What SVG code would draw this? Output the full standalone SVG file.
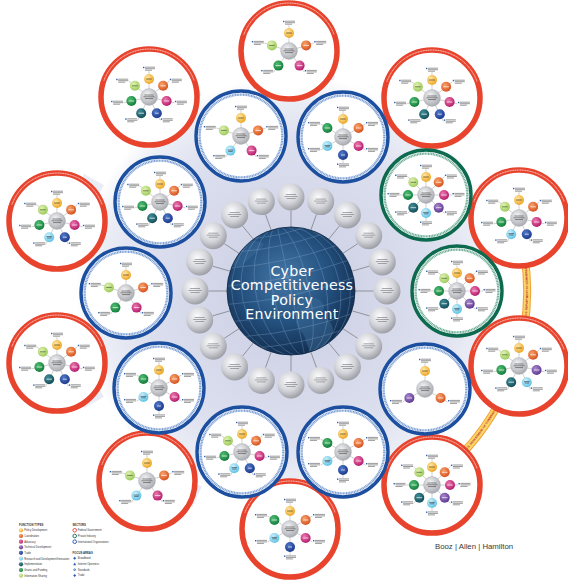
<svg xmlns="http://www.w3.org/2000/svg" width="568" height="581" viewBox="0 0 568 581">
<style>
.ld{stroke:#8a8a8a;stroke-width:.4;fill:none}
.conn{stroke:#7d8088;stroke-width:.8}
.lg{font-family:"Liberation Sans",Arial,sans-serif;font-size:2.6px;fill:#333}
.lgh{font-weight:bold;font-size:2.8px}
.beam{fill:url(#gBeam)}
</style>
<defs>
<radialGradient id="gBase" gradientUnits="userSpaceOnUse" cx="291" cy="291" r="215"><stop offset="0" stop-color="#c9cde3"/><stop offset=".7" stop-color="#dcdfee"/><stop offset=".9" stop-color="#eceef6"/><stop offset="1" stop-color="#fff"/></radialGradient>
<radialGradient id="gBeam" gradientUnits="userSpaceOnUse" cx="291" cy="291" r="240"><stop offset="0" stop-color="#d3d6ea"/><stop offset="1" stop-color="#eceef6"/></radialGradient>
<radialGradient id="gGlobe" cx=".45" cy=".4" r=".65"><stop offset="0" stop-color="#4678a6"/><stop offset=".55" stop-color="#24507e"/><stop offset="1" stop-color="#102a4a"/></radialGradient>
<radialGradient id="gS" cx=".4" cy=".35" r=".68"><stop offset="0" stop-color="#fcfcfd"/><stop offset=".55" stop-color="#d3d4d9"/><stop offset="1" stop-color="#999ba2"/></radialGradient>
<radialGradient id="gH" cx=".4" cy=".35" r=".7"><stop offset="0" stop-color="#f4f4f6"/><stop offset="1" stop-color="#a4a6ad"/></radialGradient>
<radialGradient id="gY" cx=".38" cy=".35" r=".7"><stop offset="0" stop-color="#ffe9a8"/><stop offset="1" stop-color="#eca21c"/></radialGradient>
<radialGradient id="gO" cx=".38" cy=".35" r=".7"><stop offset="0" stop-color="#f8a36a"/><stop offset="1" stop-color="#d54d1c"/></radialGradient>
<radialGradient id="gM" cx=".38" cy=".35" r=".7"><stop offset="0" stop-color="#ec78ad"/><stop offset="1" stop-color="#b3166a"/></radialGradient>
<radialGradient id="gP" cx=".38" cy=".35" r=".7"><stop offset="0" stop-color="#a888cc"/><stop offset="1" stop-color="#5b348e"/></radialGradient>
<radialGradient id="gB" cx=".38" cy=".35" r=".7"><stop offset="0" stop-color="#5378c9"/><stop offset="1" stop-color="#18378a"/></radialGradient>
<radialGradient id="gC" cx=".38" cy=".35" r=".7"><stop offset="0" stop-color="#d2f2fb"/><stop offset="1" stop-color="#56c0e4"/></radialGradient>
<radialGradient id="gT" cx=".38" cy=".35" r=".7"><stop offset="0" stop-color="#3f8e98"/><stop offset="1" stop-color="#134a57"/></radialGradient>
<radialGradient id="gG" cx=".38" cy=".35" r=".7"><stop offset="0" stop-color="#4fbd70"/><stop offset="1" stop-color="#107a3a"/></radialGradient>
<radialGradient id="gL" cx=".38" cy=".35" r=".7"><stop offset="0" stop-color="#e2f1b4"/><stop offset="1" stop-color="#98c955"/></radialGradient>
<clipPath id="gc"><circle cx="291" cy="291" r="64"/></clipPath>

<g id="sph"><circle r="13.5" fill="url(#gS)"/><path d="M-5,-2.5h10M-6.5,-.5h13M-4.5,1.5h9" stroke="#6b6d72" stroke-width=".8" opacity=".7"/></g>
<g id="tb"><rect width="1.4" height="1.4" fill="#2b5fb3"/><path d="M2,.4h10M2,1.9h10M2,3.4h7" stroke="#555" stroke-width=".6"/></g>
<g id="hub"><circle r="8.5" fill="url(#gH)" stroke="#9ea1a8" stroke-width=".3"/><path d="M-4.5,-2h9M-5.5,-.2h11M-4,1.6h8" stroke="#3a3a3a" stroke-width=".6"/></g>
<g id="sY"><circle r="5" fill="url(#gY)"/><path d="M-2.8,0h5.6" stroke="#5a3a00" stroke-width=".7"/></g>
<g id="sO"><circle r="5" fill="url(#gO)"/><path d="M-2.8,0h5.6" stroke="#fff" stroke-width=".7"/></g>
<g id="sM"><circle r="5" fill="url(#gM)"/><path d="M-2.8,0h5.6" stroke="#fff" stroke-width=".7"/></g>
<g id="sP"><circle r="5" fill="url(#gP)"/><path d="M-2.8,0h5.6" stroke="#fff" stroke-width=".7"/></g>
<g id="sB"><circle r="5" fill="url(#gB)"/><path d="M-2,0h4" stroke="#fff" stroke-width=".7"/></g>
<g id="sC"><circle r="5" fill="url(#gC)"/><path d="M-2.8,-.6h5.6M-2.2,.8h4.4" stroke="#234" stroke-width=".6"/></g>
<g id="sT"><circle r="5" fill="url(#gT)"/><path d="M-2.8,0h5.6" stroke="#fff" stroke-width=".7"/></g>
<g id="sG"><circle r="5" fill="url(#gG)"/><path d="M-2.8,0h5.6" stroke="#fff" stroke-width=".7"/></g>
<g id="sL"><circle r="5" fill="url(#gL)"/><path d="M-2.8,0h5.6" stroke="#2a4a10" stroke-width=".6"/></g>

<g id="rR"><circle r="48" fill="#fff" stroke="#e8432d" stroke-width="5.5"/><path d="M-45.1,-16.4A48,48 0 0 1 45.1,-16.4" fill="none" stroke="#fff" stroke-width=".9" stroke-dasharray="1.2 .5" opacity=".85"/></g>
<g id="rB"><circle r="45" fill="#fff" stroke="#1c4f9f" stroke-width="3.4"/><circle r="41.4" fill="none" stroke="#5d88c9" stroke-width="2.4" stroke-dasharray="1.1 .5" opacity=".8"/></g>
<g id="rG"><circle r="45" fill="#fff" stroke="#0e6a4e" stroke-width="3.4"/><circle r="41.4" fill="none" stroke="#4a9a7d" stroke-width="2.4" stroke-dasharray="1.1 .5" opacity=".8"/></g>

<g id="w3"><path class="ld" d="M0,0V-26M0,0L22.5,13M0,0L-22.5,13"/>
<use href="#tb" x="-6" y="-30.2"/><use href="#tb" x="23" y="11"/><use href="#tb" x="-35" y="11"/>
<use href="#hub"/><use href="#sY" y="-18"/><use href="#sO" x="15.6" y="9"/><use href="#sP" x="-15.6" y="9"/></g>

<g id="w5a"><path class="ld" d="M0,0V-26M0,0L24.7,-8M0,0L15.3,21M0,0L-15.3,21M0,0L-24.7,-8"/>
<use href="#tb" x="-6" y="-30.2"/><use href="#tb" x="25.2" y="-10"/><use href="#tb" x="15.8" y="19"/><use href="#tb" x="-27.8" y="19"/><use href="#tb" x="-37.2" y="-10"/>
<use href="#hub"/><use href="#sY" y="-18"/><use href="#sO" x="17.1" y="-5.6"/><use href="#sM" x="10.6" y="14.6"/><use href="#sG" x="-10.6" y="14.6"/><use href="#sL" x="-17.1" y="-5.6"/></g>

<g id="w5b"><path class="ld" d="M0,0V-26M0,0L24.7,-8M0,0L15.3,21M0,0L-15.3,21M0,0L-24.7,-8"/>
<use href="#tb" x="-6" y="-30.2"/><use href="#tb" x="25.2" y="-10"/><use href="#tb" x="15.8" y="19"/><use href="#tb" x="-27.8" y="19"/><use href="#tb" x="-37.2" y="-10"/>
<use href="#hub"/><use href="#sY" y="-18"/><use href="#sO" x="17.1" y="-5.6"/><use href="#sM" x="10.6" y="14.6"/><use href="#sC" x="-10.6" y="14.6"/><use href="#sL" x="-17.1" y="-5.6"/></g>

<g id="w6"><path class="ld" d="M0,0V-26M0,0L22.5,-13M0,0L22.5,13M0,0V26M0,0L-22.5,13M0,0L-22.5,-13"/>
<use href="#tb" x="-6" y="-30.2"/><use href="#tb" x="23" y="-15"/><use href="#tb" x="23" y="11"/><use href="#tb" x="-6" y="26.5"/><use href="#tb" x="-35" y="11"/><use href="#tb" x="-35" y="-15"/>
<use href="#hub"/><use href="#sY" y="-18"/><use href="#sO" x="15.6" y="-9"/><use href="#sM" x="15.6" y="9"/><use href="#sB" y="18"/><use href="#sC" x="-15.6" y="9"/><use href="#sG" x="-15.6" y="-9"/></g>

<g id="w7a"><path class="ld" d="M0,0V-26M0,0L20.3,-16.2M0,0L25.4,5.8M0,0L11.3,23.4M0,0L-11.3,23.4M0,0L-25.4,5.8M0,0L-20.3,-16.2"/>
<use href="#tb" x="-6" y="-30.2"/><use href="#tb" x="20.8" y="-18.2"/><use href="#tb" x="25.9" y="3.8"/><use href="#tb" x="11.8" y="21.4"/><use href="#tb" x="-23.8" y="21.4"/><use href="#tb" x="-37.9" y="3.8"/><use href="#tb" x="-32.8" y="-18.2"/>
<use href="#hub"/><use href="#sY" y="-18"/><use href="#sO" x="14.1" y="-11.2"/><use href="#sM" x="17.6" y="4"/><use href="#sB" x="7.8" y="16.2"/><use href="#sT" x="-7.8" y="16.2"/><use href="#sG" x="-17.6" y="4"/><use href="#sL" x="-14.1" y="-11.2"/></g>

<g id="w7b"><path class="ld" d="M0,0V-26M0,0L20.3,-16.2M0,0L25.4,5.8M0,0L11.3,23.4M0,0L-11.3,23.4M0,0L-25.4,5.8M0,0L-20.3,-16.2"/>
<use href="#tb" x="-6" y="-30.2"/><use href="#tb" x="20.8" y="-18.2"/><use href="#tb" x="25.9" y="3.8"/><use href="#tb" x="11.8" y="21.4"/><use href="#tb" x="-23.8" y="21.4"/><use href="#tb" x="-37.9" y="3.8"/><use href="#tb" x="-32.8" y="-18.2"/>
<use href="#hub"/><use href="#sY" y="-18"/><use href="#sO" x="14.1" y="-11.2"/><use href="#sM" x="17.6" y="4"/><use href="#sB" x="7.8" y="16.2"/><use href="#sC" x="-7.8" y="16.2"/><use href="#sG" x="-17.6" y="4"/><use href="#sL" x="-14.1" y="-11.2"/></g>

<g id="w7c"><path class="ld" d="M0,0V-26M0,0L20.3,-16.2M0,0L25.4,5.8M0,0L11.3,23.4M0,0L-11.3,23.4M0,0L-25.4,5.8M0,0L-20.3,-16.2"/>
<use href="#tb" x="-6" y="-30.2"/><use href="#tb" x="20.8" y="-18.2"/><use href="#tb" x="25.9" y="3.8"/><use href="#tb" x="11.8" y="21.4"/><use href="#tb" x="-23.8" y="21.4"/><use href="#tb" x="-37.9" y="3.8"/><use href="#tb" x="-32.8" y="-18.2"/>
<use href="#hub"/><use href="#sY" y="-18"/><use href="#sO" x="14.1" y="-11.2"/><use href="#sP" x="17.6" y="4"/><use href="#sC" x="7.8" y="16.2"/><use href="#sT" x="-7.8" y="16.2"/><use href="#sG" x="-17.6" y="4"/><use href="#sL" x="-14.1" y="-11.2"/></g>

<g id="w8"><path class="ld" d="M0,0V-26M0,0L18.4,-18.4M0,0H26M0,0L18.4,18.4M0,0V26M0,0L-18.4,18.4M0,0H-26M0,0L-18.4,-18.4"/>
<use href="#tb" x="-6" y="-30.2"/><use href="#tb" x="18.9" y="-20.4"/><use href="#tb" x="26.5" y="-2"/><use href="#tb" x="18.9" y="16.4"/><use href="#tb" x="-6" y="26.5"/><use href="#tb" x="-30.9" y="16.4"/><use href="#tb" x="-38.5" y="-2"/><use href="#tb" x="-30.9" y="-20.4"/>
<use href="#hub"/><use href="#sY" y="-18"/><use href="#sO" x="12.7" y="-12.7"/><use href="#sM" x="18"/><use href="#sP" x="12.7" y="12.7"/><use href="#sC" y="18"/><use href="#sT" x="-12.7" y="12.7"/><use href="#sG" x="-18"/><use href="#sL" x="-12.7" y="-12.7"/></g>

<path id="arcP" d="M436.3,477A236,236 0 0 0 520,233.9"/>
</defs>

<rect width="568" height="581" fill="#fff"/>

<g id="background">
<polygon class="beam" points="291,291 243.5,57.8 338.5,57.8"/>
<polygon class="beam" points="291,291 389.7,74.4 466.5,130.2"/>
<polygon class="beam" points="291,291 498.2,173.8 527.5,264.1"/>
<polygon class="beam" points="291,291 527.5,317.9 498.2,408.2"/>
<polygon class="beam" points="291,291 466.5,451.8 389.7,507.6"/>
<polygon class="beam" points="291,291 338.5,524.2 243.5,524.2"/>
<polygon class="beam" points="291,291 192.3,507.6 115.5,451.8"/>
<polygon class="beam" points="291,291 83.8,408.2 54.5,317.9"/>
<polygon class="beam" points="291,291 54.5,264.1 83.8,173.8"/>
<polygon class="beam" points="291,291 115.5,130.2 192.3,74.4"/>
<circle cx="291" cy="291" r="215" fill="url(#gBase)"/>
</g>

<g id="commerce-band">
<use href="#arcP" fill="none" stroke="#f0a030" stroke-width="8"/>
<use href="#arcP" fill="none" stroke="#fcd56a" stroke-width="6"/>
<text font-family="Liberation Sans,Arial,sans-serif" font-size="2.9" font-weight="bold" fill="#b3261e" text-anchor="middle" dy="1"><textPath href="#arcP" startOffset="65.5">U.S. DEPARTMENT OF COMMERCE</textPath></text>
<text font-family="Liberation Sans,Arial,sans-serif" font-size="2.9" font-weight="bold" fill="#b3261e" text-anchor="middle" dy="1"><textPath href="#arcP" startOffset="213.4">U.S. DEPARTMENT OF COMMERCE</textPath></text>
</g>

<g id="connectors">
<path class="conn" d="M291,227V210.5M310.8,230.1L316.5,214.4M328.6,239.2L339.5,225.9M342.8,253.4L357.7,243.7M351.9,271.2L369.5,266.1M355,291H373.5M351.9,310.8L369.5,315.9M342.8,328.6L357.7,338.3M328.6,342.8L339.5,356.1M310.8,351.9L316.5,367.6M291,355V371.5M271.2,351.9L265.5,367.6M253.4,342.8L242.5,356.1M239.2,328.6L224.3,338.3M230.1,310.8L212.5,315.9M227,291H208.5M230.1,271.2L212.5,266.1M239.2,253.4L224.3,243.7M253.4,239.2L242.5,225.9M271.2,230.1L265.5,214.4"/>
</g>

<g id="fed-top" transform="translate(289,51)"><use href="#rR"/><use href="#w5a"/></g>
<g id="fed-topright" transform="translate(432,98)"><use href="#rR"/><use href="#w7a"/></g>
<g id="fed-right" transform="translate(519,218)"><use href="#rR"/><use href="#w7b"/></g>
<g id="fed-rightlower" transform="translate(519,366)"><use href="#rR"/><use href="#w7c"/></g>
<g id="fed-bottomright" transform="translate(432,485)"><use href="#rR"/><use href="#w8"/></g>
<g id="fed-bottom" transform="translate(290,529)"><use href="#rR"/><use href="#w6"/></g>
<g id="fed-bottomleft" transform="translate(147,481)"><use href="#rR"/><use href="#w5b"/></g>
<g id="fed-leftlower" transform="translate(57,363)"><use href="#rR"/><use href="#w7a"/></g>
<g id="fed-left" transform="translate(57,221)"><use href="#rR"/><use href="#w7b"/></g>
<g id="fed-topleft" transform="translate(149,97)"><use href="#rR"/><use href="#w7a"/></g>

<g id="intl-topleft" transform="translate(241,136)"><use href="#rB"/><use href="#w5b"/></g>
<g id="intl-topright" transform="translate(343,137)"><use href="#rB"/><use href="#w6"/></g>
<g id="priv-upper" transform="translate(426,195)"><use href="#rG"/><use href="#w8"/></g>
<g id="priv-right" transform="translate(457,291)"><use href="#rG"/><use href="#w8"/></g>
<g id="intl-rightlower" transform="translate(425,389)"><use href="#rB"/><use href="#w3"/></g>
<g id="intl-bottomright" transform="translate(343,452)"><use href="#rB"/><use href="#w6"/></g>
<g id="intl-bottomleft" transform="translate(242,452)"><use href="#rB"/><use href="#w7b"/></g>
<g id="intl-leftlower" transform="translate(159,388)"><use href="#rB"/><use href="#w6"/></g>
<g id="intl-left" transform="translate(126,293)"><use href="#rB"/><use href="#w5a"/></g>
<g id="intl-lefttop" transform="translate(160,202)"><use href="#rB"/><use href="#w7a"/></g>

<g id="sphere-1"><use href="#sph" x="291" y="197"/></g>
<g id="sphere-2"><use href="#sph" x="320.7" y="201.6"/></g>
<g id="sphere-3"><use href="#sph" x="347.4" y="215"/></g>
<g id="sphere-4"><use href="#sph" x="368.7" y="235.7"/></g>
<g id="sphere-5"><use href="#sph" x="382.3" y="262"/></g>
<g id="sphere-6"><use href="#sph" x="387" y="291"/></g>
<g id="sphere-7"><use href="#sph" x="382.3" y="320"/></g>
<g id="sphere-8"><use href="#sph" x="368.7" y="346.3"/></g>
<g id="sphere-9"><use href="#sph" x="347.4" y="367"/></g>
<g id="sphere-10"><use href="#sph" x="320.7" y="380.4"/></g>
<g id="sphere-11"><use href="#sph" x="291" y="385"/></g>
<g id="sphere-12"><use href="#sph" x="261.3" y="380.4"/></g>
<g id="sphere-13"><use href="#sph" x="234.6" y="367"/></g>
<g id="sphere-14"><use href="#sph" x="213.3" y="346.3"/></g>
<g id="sphere-15"><use href="#sph" x="199.7" y="320"/></g>
<g id="sphere-16"><use href="#sph" x="195" y="291"/></g>
<g id="sphere-17"><use href="#sph" x="199.7" y="262"/></g>
<g id="sphere-18"><use href="#sph" x="213.3" y="235.7"/></g>
<g id="sphere-19"><use href="#sph" x="234.6" y="215"/></g>
<g id="sphere-20"><use href="#sph" x="261.3" y="201.6"/></g>

<g id="globe">
<circle cx="291" cy="291" r="64" fill="url(#gGlobe)"/>
<g clip-path="url(#gc)">
<path d="M300,300c8,-4 18,-3 22,2c4,5 2,10 -3,12c6,3 14,8 14,16c0,8 -8,14 -12,20c-3,5 -5,9 -8,10c-2,-7 -6,-14 -8,-22c-2,-7 -8,-9 -9,-16c-1,-6 0,-18 4,-22z M296,296c-4,-6 -2,-14 6,-16c6,-2 12,2 14,8c-5,3 -13,4 -20,8z M232,250c10,-10 24,-12 32,-6c-4,8 -14,12 -20,20c-4,5 -10,4 -12,-2z" fill="#3d6e9c" opacity=".45"/>
<g fill="none" stroke="#8fb3d6" stroke-width=".55" opacity=".5" transform="rotate(-12 291 291)">
<ellipse cx="291" cy="291" rx="18" ry="66"/><ellipse cx="291" cy="291" rx="35" ry="66"/><ellipse cx="291" cy="291" rx="49" ry="66"/><ellipse cx="291" cy="291" rx="59" ry="66"/><path d="M291,225V357"/>
<path d="M227,291Q291,300 355,291M229.6,273Q291,281 352.4,273M237.4,256Q291,263 344.6,256M249.8,242Q291,247 332.2,242M266.2,232Q291,235 315.8,232M229.6,309Q291,317 352.4,309M237.4,326Q291,333 344.6,326M249.8,340Q291,345 332.2,340"/>
</g>
</g>
<circle cx="291" cy="291" r="64" fill="none" stroke="#0d2440" stroke-width=".8"/>
<g id="title" font-family="DejaVu Sans,Verdana,sans-serif" font-size="14.2" letter-spacing=".25" fill="#fff" text-anchor="middle">
<text x="292" y="275.5">Cyber</text>
<text x="292" y="290.2">Competitiveness</text>
<text x="292" y="304.6">Policy</text>
<text x="292" y="319">Environment</text>
</g>
</g>

<g id="legend">
<text class="lg lgh" x="19" y="526.2">FUNCTION TYPES</text>
<circle cx="21" cy="530.3" r="2.1" fill="url(#gY)"/><text class="lg" x="24.3" y="531.2">Policy Development</text>
<circle cx="21" cy="536" r="2.1" fill="url(#gO)"/><text class="lg" x="24.3" y="536.9">Coordination</text>
<circle cx="21" cy="541.7" r="2.1" fill="url(#gM)"/><text class="lg" x="24.3" y="542.6">Advocacy</text>
<circle cx="21" cy="547.3" r="2.1" fill="url(#gP)"/><text class="lg" x="24.3" y="548.2">Technical Development</text>
<circle cx="21" cy="552.8" r="2.1" fill="url(#gB)"/><text class="lg" x="24.3" y="553.7">Trade</text>
<circle cx="21" cy="558.6" r="2.1" fill="url(#gC)"/><text class="lg" x="24.3" y="559.5">Research and Development/Innovation</text>
<circle cx="21" cy="564.3" r="2.1" fill="url(#gT)"/><text class="lg" x="24.3" y="565.2">Implementation</text>
<circle cx="21" cy="570" r="2.1" fill="url(#gG)"/><text class="lg" x="24.3" y="570.9">Grants and Funding</text>
<circle cx="21" cy="575.6" r="2.1" fill="url(#gL)"/><text class="lg" x="24.3" y="576.5">Information Sharing</text>

<text class="lg lgh" x="72.5" y="526.2">SECTORS</text>
<circle cx="74.7" cy="530.3" r="1.8" fill="#fff" stroke="#e8432d" stroke-width=".9"/><text class="lg" x="77.8" y="531.2">Federal Government</text>
<circle cx="74.7" cy="536" r="1.8" fill="#fff" stroke="#0e6a4e" stroke-width=".9"/><text class="lg" x="77.8" y="536.9">Private Industry</text>
<circle cx="74.7" cy="541.7" r="1.8" fill="#fff" stroke="#1c4f9f" stroke-width=".9"/><text class="lg" x="77.8" y="542.6">International Organizations</text>

<text class="lg lgh" x="72.5" y="553.8">FOCUS AREAS</text>
<path d="M74.7,556.8l1.5,1.5l-1.5,1.5l-1.5,-1.5z" fill="#2b5fb3"/><text class="lg" x="77.8" y="559.2">Broadband</text>
<path d="M74.7,562.5l1.5,2.8h-3z" fill="#2b5fb3"/><text class="lg" x="77.8" y="564.9">Internet Openness</text>
<path d="M74.7,568.3l1.5,1.5l-1.5,1.5l-1.5,-1.5z" fill="#2b5fb3"/><rect x="74.2" y="569.3" width="1" height="1" fill="#fff"/><text class="lg" x="77.8" y="570.7">Standards</text>
<path d="M74.7,573.9l1.5,1.5l-1.5,1.5l-1.5,-1.5z" fill="#2b5fb3"/><text class="lg" x="77.8" y="576.3">Trade</text>
</g>

<g id="brand">
<text x="435" y="549" font-family="Liberation Sans,Arial,sans-serif" font-size="7.8" fill="#3a3a3a">Booz | Allen | Hamilton</text>
</g>
</svg>
